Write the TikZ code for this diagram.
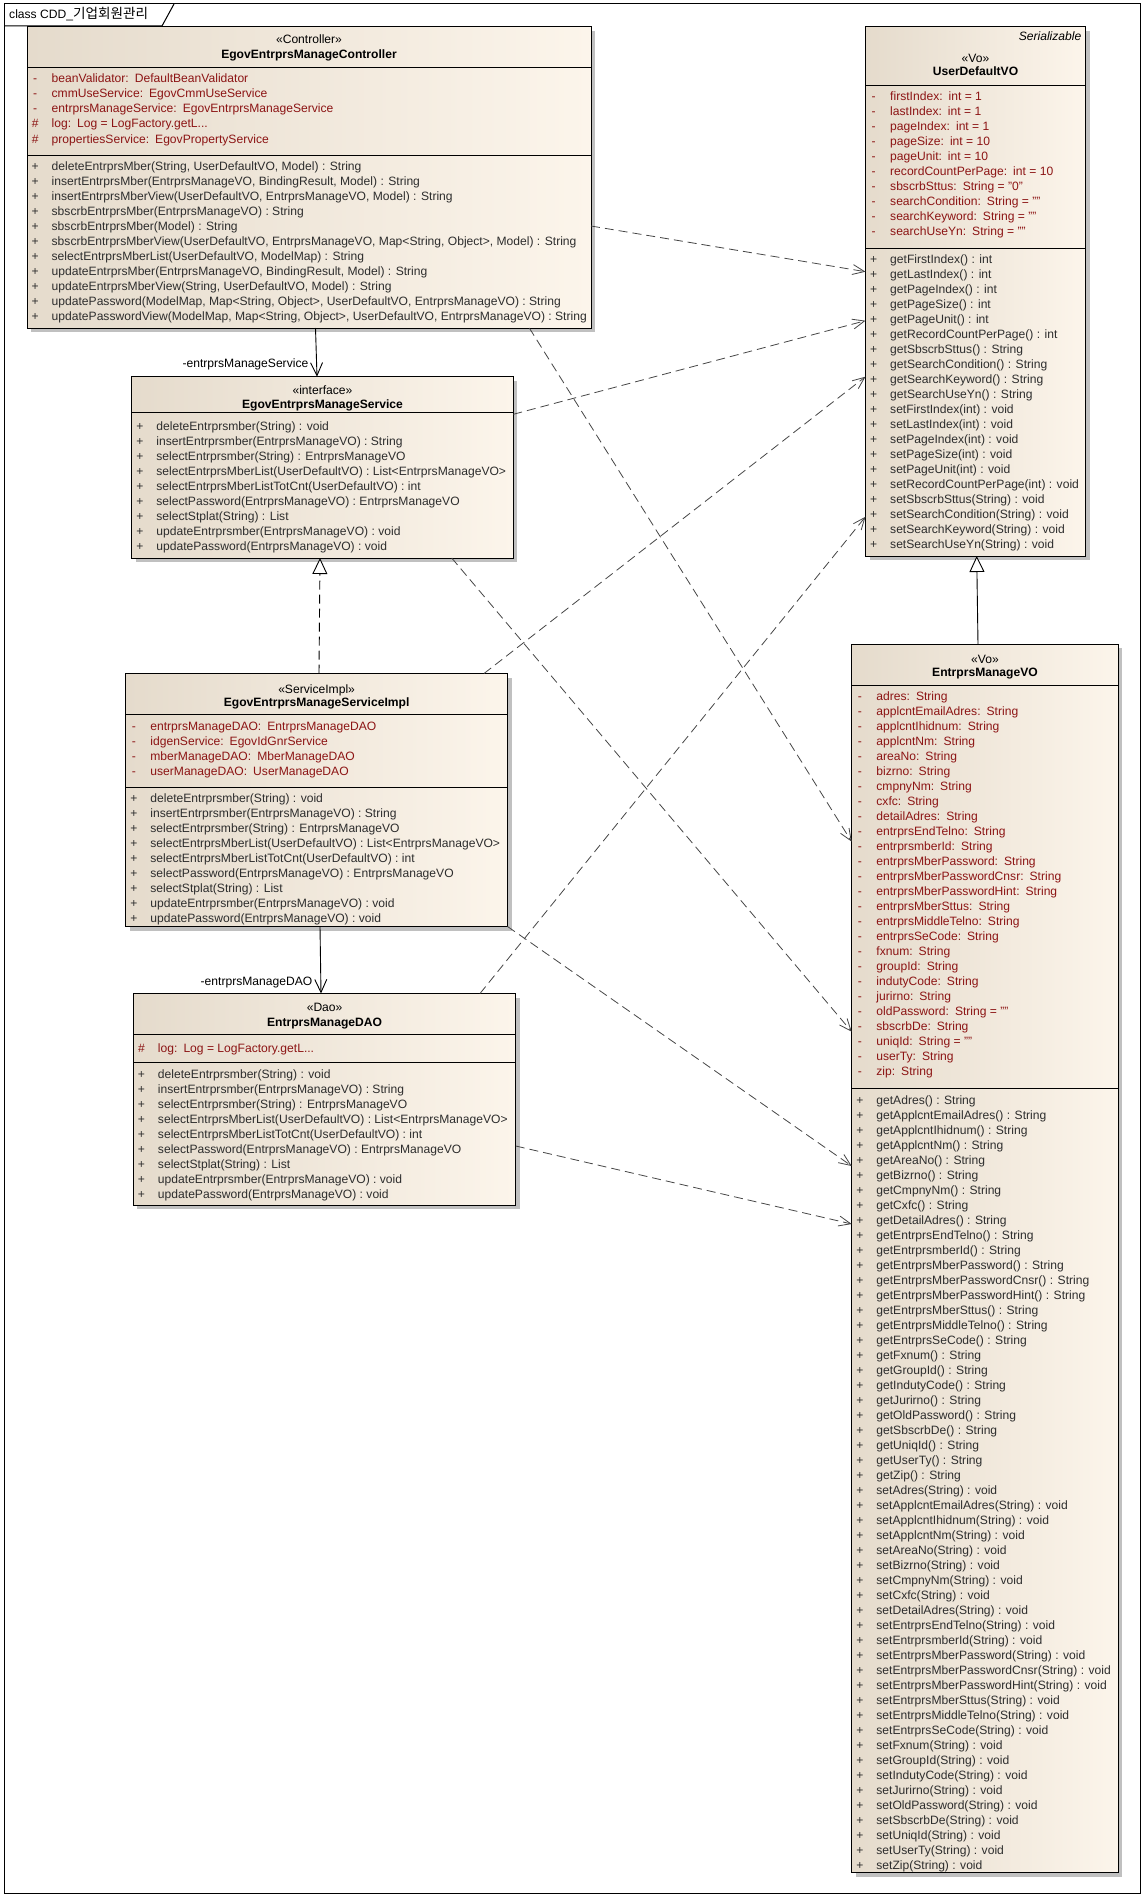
\documentclass[tikz,border=0pt]{standalone}
\usepackage{fontspec}
\setmainfont{Liberation Sans}
\newfontfamily\krfont{Noto Sans CJK KR}
\usetikzlibrary{arrows.meta,shadows}
\definecolor{boxL}{RGB}{229,219,204}
\definecolor{boxR}{RGB}{252,245,235}
\definecolor{attrc}{RGB}{140,20,20}
\definecolor{methc}{RGB}{45,45,45}
\definecolor{shadowc}{RGB}{192,192,192}
\definecolor{linec}{RGB}{70,70,70}
\newcommand\csep{\hspace{6pt}}
\newcommand\umlfont{\fontsize{12.1}{15}\selectfont}
\newcommand\svcmethods{{deleteEntrprsmber(String) : void},{insertEntrprsmber(EntrprsManageVO) : String},{selectEntrprsmber(String) : EntrprsManageVO},{selectEntrprsMberList(UserDefaultVO) : List<EntrprsManageVO>},{selectEntrprsMberListTotCnt(UserDefaultVO) : int},{selectPassword(EntrprsManageVO) : EntrprsManageVO},{selectStplat(String) : List},{updateEntrprsmber(EntrprsManageVO) : void},{updatePassword(EntrprsManageVO) : void}}
\newcommand\emprops{Adres,ApplcntEmailAdres,ApplcntIhidnum,ApplcntNm,AreaNo,Bizrno,CmpnyNm,Cxfc,DetailAdres,EntrprsEndTelno,EntrprsmberId,EntrprsMberPassword,EntrprsMberPasswordCnsr,EntrprsMberPasswordHint,EntrprsMberSttus,EntrprsMiddleTelno,EntrprsSeCode,Fxnum,GroupId,IndutyCode,Jurirno,OldPassword,SbscrbDe,UniqId,UserTy,Zip}
\tikzset{
 classbox/.style={draw=black, line width=1pt, left color=boxL, right color=boxR, anchor=north west, inner sep=0pt, outer sep=0pt, general shadow={fill=shadowc, shadow xshift=4pt, shadow yshift=-4pt}},
 sepline/.style={draw=black, line width=1pt},
 txt/.style={anchor=base west, inner sep=0pt, font=\umlfont},
 stereo/.style={anchor=base, inner sep=0pt, font=\umlfont},
 cname/.style={anchor=base, inner sep=0pt, font=\umlfont\bfseries},
 dep/.style={draw=linec, line width=0.8pt, dash pattern=on 9pt off 5pt, -{Straight Barb[length=12pt,width=10pt]}},
 assoc/.style={draw=black, line width=0.9pt, -{Straight Barb[length=13pt,width=12pt]}},
 realize/.style={draw=black, line width=0.9pt, dash pattern=on 9pt off 5pt, -{Triangle[open,length=16pt,width=15pt,fill=white]}},
 generalize/.style={draw=black, line width=0.9pt, -{Triangle[open,length=16pt,width=15pt,fill=white]}},
 rolelbl/.style={anchor=base east, inner sep=0pt, font=\umlfont},
}
\begin{document}
\begin{tikzpicture}[x=1pt,y=-1pt]
\useasboundingbox (0,0) rectangle (1146,1900);
\fill[white] (0,0) rectangle (1146,1900);
% frame
\draw[line width=1pt] (4,4) rectangle (1140,1893);
\draw[line width=1pt] (4,26) -- (162,26) -- (174,4);
\node[anchor=base west, inner sep=0pt, font=\umlfont] (title) at (9,19) {class CDD\_{\krfont\fontsize{13.6}{15}\selectfont 기업회원관리}};

% ---------- Controller
\node[classbox, minimum width=564pt, minimum height=301pt] (ctrl) at (27,27) {};
\draw[sepline] (ctrl.west |- 0,67.3) -- (ctrl.east |- 0,67.3);
\draw[sepline] (ctrl.west |- 0,155) -- (ctrl.east |- 0,155);
\node[stereo] (ctrlst) at (309,44) {«Controller»};
\node[cname] (ctrlnm) at (309,58.5) {EgovEntrprsManageController};
\foreach \cv/\ct [count=\i] in {-/{beanValidator:\csep DefaultBeanValidator},-/{cmmUseService:\csep EgovCmmUseService},-/{entrprsManageService:\csep EgovEntrprsManageService},\#/{log:\csep Log = LogFactory.getL...},\#/{propertiesService:\csep EgovPropertyService}}
  \node[txt, text=attrc] (ctrla\i) at (27.5, {83+15*(\i-1)}) {\makebox[15pt]{\cv}\hspace{9pt}\ct};
\foreach \ct [count=\i] in {{deleteEntrprsMber(String, UserDefaultVO, Model) : String},{insertEntrprsMber(EntrprsManageVO, BindingResult, Model) : String},{insertEntrprsMberView(UserDefaultVO, EntrprsManageVO, Model) : String},{sbscrbEntrprsMber(EntrprsManageVO) : String},{sbscrbEntrprsMber(Model) : String},{sbscrbEntrprsMberView(UserDefaultVO, EntrprsManageVO, Map<String, Object>, Model) : String},{selectEntrprsMberList(UserDefaultVO, ModelMap) : String},{updateEntrprsMber(EntrprsManageVO, BindingResult, Model) : String},{updateEntrprsMberView(String, UserDefaultVO, Model) : String},{updatePassword(ModelMap, Map<String, Object>, UserDefaultVO, EntrprsManageVO) : String},{updatePasswordView(ModelMap, Map<String, Object>, UserDefaultVO, EntrprsManageVO) : String}}
  \node[txt, text=methc] (ctrlm\i) at (27.5, {170.7+15*(\i-1)}) {\makebox[15pt]{+}\hspace{9pt}\ct};

% ---------- Interface
\node[classbox, minimum width=381.6pt, minimum height=181.3pt] (intf) at (131.7,376.7) {};
\draw[sepline] (intf.west |- 0,412.3) -- (intf.east |- 0,412.3);
\node[stereo] (intfst) at (322.5,394.3) {«interface»};
\node[cname] (intfnm) at (322.5,408.7) {EgovEntrprsManageService};
\foreach \ct [count=\i] in \svcmethods
  \node[txt, text=methc] (intfm\i) at (132.2, {430+15*(\i-1)}) {\makebox[15pt]{+}\hspace{9pt}\ct};

% ---------- ServiceImpl
\node[classbox, minimum width=381.8pt, minimum height=253pt] (impl) at (125.7,673.5) {};
\draw[sepline] (impl.west |- 0,714.3) -- (impl.east |- 0,714.3);
\draw[sepline] (impl.west |- 0,787.3) -- (impl.east |- 0,787.3);
\node[stereo] (implst) at (316.6,693.3) {«ServiceImpl»};
\node[cname] (implnm) at (316.6,706.7) {EgovEntrprsManageServiceImpl};
\foreach \ct [count=\i] in {{entrprsManageDAO:\csep EntrprsManageDAO},{idgenService:\csep EgovIdGnrService},{mberManageDAO:\csep MberManageDAO},{userManageDAO:\csep UserManageDAO}}
  \node[txt, text=attrc] (impla\i) at (126.2, {730+15*(\i-1)}) {\makebox[15pt]{-}\hspace{9pt}\ct};
\foreach \ct [count=\i] in \svcmethods
  \node[txt, text=methc] (implm\i) at (126.2, {802.3+15*(\i-1)}) {\makebox[15pt]{+}\hspace{9pt}\ct};

% ---------- DAO
\node[classbox, minimum width=382.5pt, minimum height=211.8pt] (dao) at (133.3,993.5) {};
\draw[sepline] (dao.west |- 0,1034.3) -- (dao.east |- 0,1034.3);
\draw[sepline] (dao.west |- 0,1062.3) -- (dao.east |- 0,1062.3);
\node[stereo] (daost) at (324.6,1011.7) {«Dao»};
\node[cname] (daonm) at (324.6,1026.3) {EntrprsManageDAO};
\node[txt, text=attrc] (daoa1) at (133.8,1052.3) {\makebox[15pt]{\#}\hspace{9pt}log:\csep Log = LogFactory.getL...};
\foreach \ct [count=\i] in \svcmethods
  \node[txt, text=methc] (daom\i) at (133.8, {1078+15*(\i-1)}) {\makebox[15pt]{+}\hspace{9pt}\ct};

% ---------- UserDefaultVO
\node[classbox, minimum width=220pt, minimum height=529.3pt] (udvo) at (865.5,26.7) {};
\draw[sepline] (udvo.west |- 0,85.7) -- (udvo.east |- 0,85.7);
\draw[sepline] (udvo.west |- 0,248.5) -- (udvo.east |- 0,248.5);
\node[anchor=base east, inner sep=0pt, font=\umlfont\itshape] (udvoser) at (1081.5,40.7) {Serializable};
\node[stereo] (udvost) at (975.5,62.5) {«Vo»};
\node[cname] (udvonm) at (975.5,75.5) {UserDefaultVO};
\foreach \ct [count=\i] in {{firstIndex:\csep int = 1},{lastIndex:\csep int = 1},{pageIndex:\csep int = 1},{pageSize:\csep int = 10},{pageUnit:\csep int = 10},{recordCountPerPage:\csep int = 10},{sbscrbSttus:\csep String = "0"},{searchCondition:\csep String = ""},{searchKeyword:\csep String = ""},{searchUseYn:\csep String = ""}}
  \node[txt, text=attrc] (udvoa\i) at (866, {100.7+15*(\i-1)}) {\makebox[15pt]{-}\hspace{9pt}\ct};
\foreach \ct [count=\i] in {{getFirstIndex() : int},{getLastIndex() : int},{getPageIndex() : int},{getPageSize() : int},{getPageUnit() : int},{getRecordCountPerPage() : int},{getSbscrbSttus() : String},{getSearchCondition() : String},{getSearchKeyword() : String},{getSearchUseYn() : String},{setFirstIndex(int) : void},{setLastIndex(int) : void},{setPageIndex(int) : void},{setPageSize(int) : void},{setPageUnit(int) : void},{setRecordCountPerPage(int) : void},{setSbscrbSttus(String) : void},{setSearchCondition(String) : void},{setSearchKeyword(String) : void},{setSearchUseYn(String) : void}}
  \node[txt, text=methc] (udvom\i) at (866, {263.3+15*(\i-1)}) {\makebox[15pt]{+}\hspace{9pt}\ct};

% ---------- EntrprsManageVO
\node[classbox, minimum width=266.6pt, minimum height=1228.4pt] (emvo) at (851.7,644.3) {};
\draw[sepline] (emvo.west |- 0,685.5) -- (emvo.east |- 0,685.5);
\draw[sepline] (emvo.west |- 0,1088.3) -- (emvo.east |- 0,1088.3);
\node[stereo] (emvost) at (985,663.3) {«Vo»};
\node[cname] (emvonm) at (985,676.7) {EntrprsManageVO};
\foreach \ct [count=\i] in {{adres:\csep String},{applcntEmailAdres:\csep String},{applcntIhidnum:\csep String},{applcntNm:\csep String},{areaNo:\csep String},{bizrno:\csep String},{cmpnyNm:\csep String},{cxfc:\csep String},{detailAdres:\csep String},{entrprsEndTelno:\csep String},{entrprsmberId:\csep String},{entrprsMberPassword:\csep String},{entrprsMberPasswordCnsr:\csep String},{entrprsMberPasswordHint:\csep String},{entrprsMberSttus:\csep String},{entrprsMiddleTelno:\csep String},{entrprsSeCode:\csep String},{fxnum:\csep String},{groupId:\csep String},{indutyCode:\csep String},{jurirno:\csep String},{oldPassword:\csep String = ""},{sbscrbDe:\csep String},{uniqId:\csep String = ""},{userTy:\csep String},{zip:\csep String}}
  \node[txt, text=attrc] (emvoa\i) at (852.2, {700.7+15*(\i-1)}) {\makebox[15pt]{-}\hspace{9pt}\ct};
\foreach \p [count=\i] in \emprops {
  \node[txt, text=methc] (emvog\i) at (852.2, {1104+15*(\i-1)}) {\makebox[15pt]{+}\hspace{9pt}get\p() : String};
  \node[txt, text=methc] (emvos\i) at (852.2, {1494+15*(\i-1)}) {\makebox[15pt]{+}\hspace{9pt}set\p(String) : void};
}

% ---------- role labels
\node[rolelbl] (lblsvc) at (308.5,367.3) {-entrprsManageService};
\node[rolelbl] (lbldao) at (312.5,985) {-entrprsManageDAO};

% ---------- connectors
\draw[dep] (ctrl.east |- 0,226) -- (udvo.west |- 0,271.7);
\draw[dep] (ctrl.south -| 529.3,0) -- (emvo.west |- 0,841.7);
\draw[dep] (intf.east |- 0,414.3) -- (udvo.west |- 0,320.7);
\draw[dep] (intf.south -| 451.7,0) -- (emvo.west |- 0,1031.7);
\draw[dep] (impl.north -| 484,0) -- (udvo.west |- 0,376.7);
\draw[dep] (impl.south east) -- (emvo.west |- 0,1166);
\draw[dep] (dao.north -| 480,0) -- (udvo.west |- 0,516.7);
\draw[dep] (dao.east |- 0,1146) -- (emvo.west |- 0,1224);
\draw[assoc] (ctrl.south -| 315.5,0) -- (intf.north -| 317,0);
\draw[realize] (impl.north -| 319,0) -- (intf.south -| 320,0);
\draw[assoc] (impl.south -| 320,0) -- (dao.north -| 321,0);
\draw[generalize] (emvo.north -| 978,0) -- (udvo.south -| 976.7,0);
\end{tikzpicture}
\end{document}
